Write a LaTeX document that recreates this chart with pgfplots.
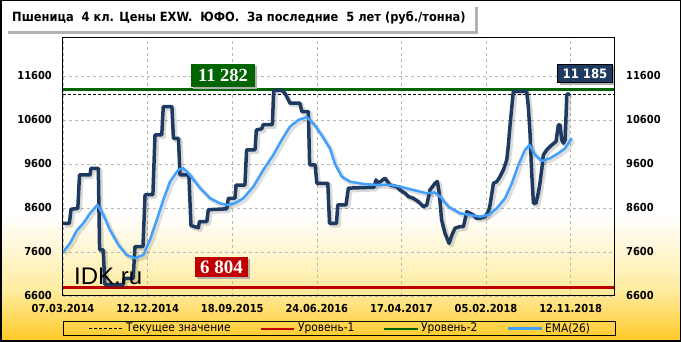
\documentclass[border=0pt]{standalone}
\usepackage{fontspec}
\setmainfont{Liberation Sans}
\newfontfamily\tah{DejaVu Sans Condensed}
\newfontfamily\tims{Liberation Serif}
\usepackage{pgfplots}
\pgfplotsset{compat=1.18}
\usepackage{pgfplotstable}

\definecolor{navy}{RGB}{31,58,96}
\definecolor{ema}{RGB}{66,160,255}
\definecolor{lvlred}{RGB}{192,0,0}
\definecolor{lvlgreen}{RGB}{0,100,0}
\definecolor{gold}{RGB}{255,200,35}
\definecolor{gold2}{RGB}{255,236,160}

\pgfplotstableread{
w v
0 8250
3 8250
3.8 8570
7 8590
7.8 9350
12.8 9350
13.2 9500
16.7 9500
17.3 7650
19 7650
19.8 6860
28.5 6860
28.9 7000
33.2 7000
34 7720
37.8 7720
38.8 8900
42.5 8900
43.5 10260
46.7 10260
47.4 10900
51.5 10900
52.2 10180
54.6 10180
55.3 9350
59.5 9350
60.5 8200
64 8150
64.5 8290
68 8290
68.7 8560
77.4 8580
78.2 8820
81.3 8820
81.8 9120
86 9120
86.8 9920
90.8 9920
91.4 10370
94 10400
94.6 10490
99 10490
99.6 11270
103.5 11270
105 11200
107.3 10980
112 10980
112.9 10790
116 10790
116.6 9580
119.2 9580
120 9160
125.2 9160
126 8250
129.3 8250
129.9 8670
133.8 8670
134.9 9050
147 9070
148 9236
149 9161
152.2 9275
154.6 9123
157.8 9085
159.3 9009
161.7 8934
163.3 8857
165.6 8820
168 8743
170.4 8630
172 8668
173.5 9009
175.9 9161
177 9200
177.9 8934
179 8327
180.6 8024
182.5 7797
184 8000
185.3 8138
187.5 8175
189.3 8175
190.9 8516
192.4 8479
194 8441
195.6 8366
197.2 8366
199.5 8403
201.1 8516
201.9 8668
203.5 9161
205.1 9198
206.6 9311
208.2 9464
209.8 9691
210.5 9994
211.3 10448
212.2 10902
212.9 11250
219.2 11250
220 10902
220.8 10297
221.6 9388
222.4 8706
223.6 8706
224.7 8934
225.5 9161
226.3 9464
227.1 9805
228.7 9918
231.1 10032
233.1 10107
234.2 10486
235 10486
235.8 10145
236.6 10070
237.4 10145
238.2 11185
239.7 11185
}\price

\pgfplotstableread{
w v
0 7600
3.3 7797
6.5 8086
9.6 8252
12.8 8479
16.2 8668
19.1 8441
22.2 8100
26.2 7759
30.1 7532
34 7457
38 7532
41.1 7873
44.3 8327
47.4 8782
50.6 9198
54.5 9464
56.9 9502
60 9350
64.8 9050
69.5 8820
74.2 8706
77.4 8668
81.3 8706
85.2 8820
90 9085
94.7 9464
99.4 9805
103.4 10145
107.3 10448
111.3 10600
115.2 10661
118.3 10525
122.3 10250
126.2 9950
128.6 9600
131.8 9311
135.7 9198
142 9145
148.3 9123
154.6 9123
159.3 9085
165.6 9009
172 8934
175.9 8950
179 8820
182.2 8630
187.7 8479
192.4 8441
197.2 8403
201.1 8441
205.1 8593
209 8820
212.2 9161
215.3 9577
218.4 9918
220.5 10032
223.2 9805
226.3 9668
230.3 9729
234.2 9843
237.4 9956
240.5 10184
}\ema

\begin{document}
\begin{tikzpicture}[x=1pt,y=1pt]
\fill[white] (0,0) rectangle (681,342);
\fill[bottom color=gold, top color=gold2] (0,0) rectangle (681,52);
\fill[bottom color=gold2, top color=white] (0,52) rectangle (681,127);

\begin{axis}[
  at={(63pt,46pt)}, anchor=south west, scale only axis,
  width=551pt, height=258pt,
  xmin=0, xmax=260.5, ymin=6600, ymax=12460,
  scaled y ticks=false, scaled x ticks=false,
  xtick={0,40,80,120,160,200,240},
  xticklabels={07.03.2014,12.12.2014,18.09.2015,24.06.2016,17.04.2017,05.02.2018,12.11.2018},
  ytick={6600,7600,8600,9600,10600,11600},
  yticklabels={6600,7600,8600,9600,10600,11600},
  major tick length=0pt,
  grid=major,
  major grid style={dash pattern=on 3pt off 3pt, black!28, line width=0.6pt},
  axis line style={black, line width=1pt},
  tick label style={font=\tah\bfseries\fontsize{11}{11}\selectfont},
  yticklabel style={inner sep=0pt, xshift=-11pt},
  xticklabel style={inner sep=0pt, yshift=-8pt},
]
\addplot[lvlgreen, line width=3pt, forget plot] coordinates {(0,11282) (260.5,11282)};
\addplot[black, line width=0.8pt, dash pattern=on 3pt off 2pt, forget plot] coordinates {(0,11185) (260.5,11185)};
\addplot[lvlred, line width=3pt, forget plot] coordinates {(0,6804) (260.5,6804)};
\addplot[black, opacity=0.13, line width=4pt, line join=round, transform canvas={xshift=2pt,yshift=-2pt}] table[x=w,y=v] {\ema};
\addplot[black, opacity=0.15, line width=4.5pt, line join=round, transform canvas={xshift=2pt,yshift=-2pt}] table[x=w,y=v] {\price};
\addplot[navy, line width=3.5pt, line join=round] table[x=w,y=v] {\price};
\addplot[ema, line width=2.5pt, line join=round] table[x=w,y=v] {\ema};
\end{axis}

\begin{axis}[
  at={(63pt,46pt)}, anchor=south west, scale only axis,
  width=551pt, height=258pt,
  xmin=0, xmax=260.5, ymin=6600, ymax=12460,
  scaled y ticks=false,
  hide x axis, axis y line*=right,
  ytick={6600,7600,8600,9600,10600,11600},
  yticklabels={6600,7600,8600,9600,10600,11600},
  major tick length=0pt,
  axis line style={black, line width=1pt},
  tick label style={font=\tah\bfseries\fontsize{11}{11}\selectfont},
  yticklabel style={inner sep=0pt, xshift=12pt},
]
\end{axis}

% value boxes
\fill[black!30] (193,253.3) rectangle (257,276);
\fill[lvlgreen] (191,255.3) rectangle (255,278);
\node[text=white, font=\tims\bfseries\fontsize{18.5}{18.5}\selectfont] at (223,266.3) {11 282};

\fill[black!30] (197,62.7) rectangle (250,82.7);
\fill[lvlred] (195,64.7) rectangle (248,84.7);
\node[text=white, font=\tims\bfseries\fontsize{19}{19}\selectfont] at (221.5,74.3) {6 804};

\fill[black!30] (559.7,257.3) rectangle (614.3,276);
\filldraw[fill=navy, draw=black, line width=0.8pt] (557.7,259.3) rectangle (612.3,278);
\node[text=white, font=\tah\bfseries\fontsize{13}{13}\selectfont] at (585,268.5) {11 185};

\node[anchor=base west, inner sep=0pt, font=\fontsize{24}{24}\selectfont] at (74,57) {IDK.ru};

% title
\fill[black!30] (8,308) rectangle (478,335);
\fill[white] (5,311) rectangle (475,338);
\node[anchor=west, inner sep=0pt, font=\tah\bfseries\fontsize{12.7}{12.7}\selectfont] at (12,324.5) {Пшеница\ \ 4 кл. Цены EXW.\ \ ЮФО.\ \ За последние\ \ 5 лет (руб./тонна)};

% legend
\draw[black, line width=0.8pt] (63.8,6.3) rectangle (615.7,20.3);
\draw[black, line width=0.8pt, dash pattern=on 3pt off 2pt] (89,13.3) -- (121.6,13.3);
\node[anchor=west, inner sep=0pt, font=\tah\fontsize{11.8}{11.8}\selectfont] at (126,13.3) {Текущее значение};
\draw[lvlred, line width=2pt] (260.5,13.3) -- (294,13.3);
\node[anchor=west, inner sep=0pt, font=\tah\fontsize{11.8}{11.8}\selectfont] at (298,13.3) {Уровень-1};
\draw[lvlgreen, line width=2pt] (384,13.3) -- (418,13.3);
\node[anchor=west, inner sep=0pt, font=\tah\fontsize{11.8}{11.8}\selectfont] at (421,13.3) {Уровень-2};
\draw[ema, line width=2.5pt] (508,13.3) -- (542,13.3);
\node[anchor=west, inner sep=0pt, font=\tah\fontsize{11.8}{11.8}\selectfont] at (545,13.3) {EMA(26)};

\draw[black, line width=1.5pt] (0.75,0.75) rectangle (680.25,341.25);
\end{tikzpicture}
\end{document}
